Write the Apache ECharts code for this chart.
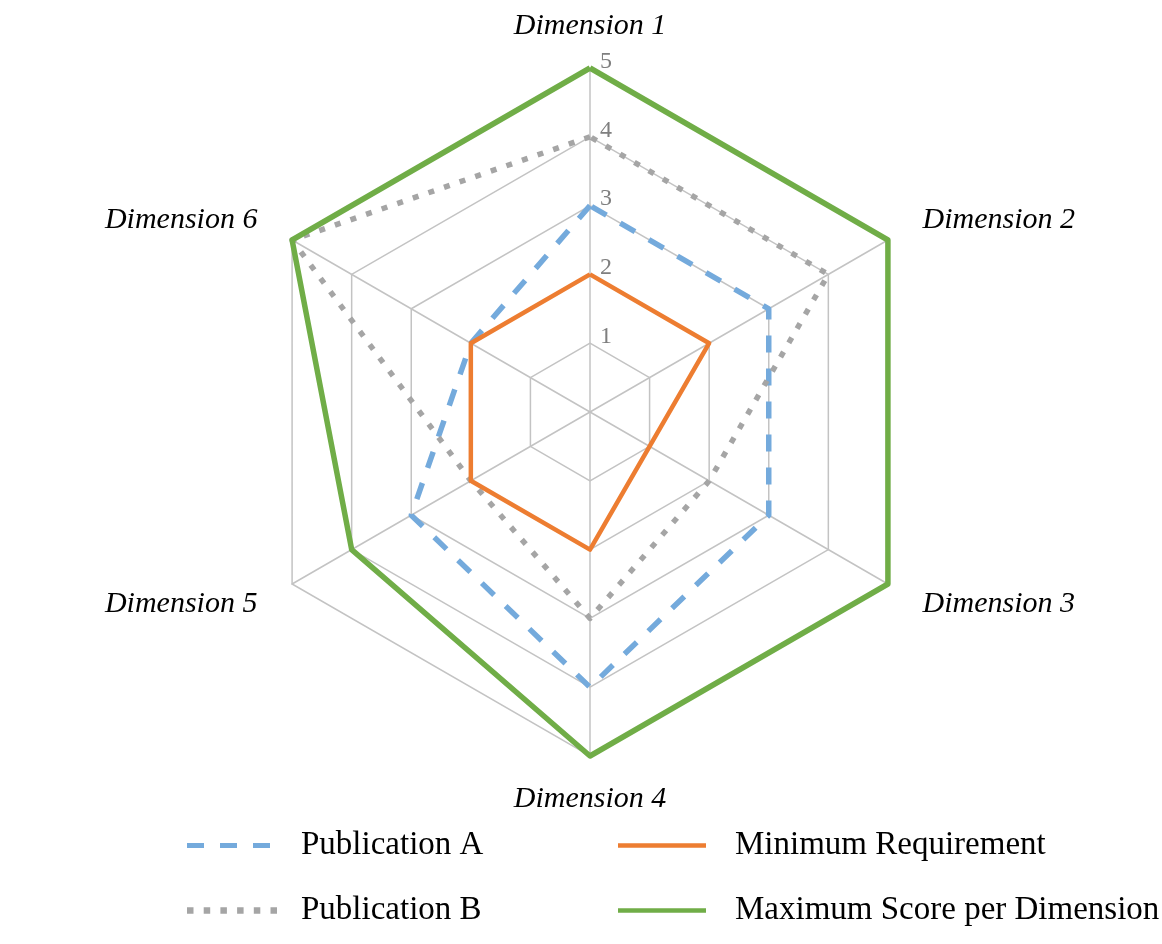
<!DOCTYPE html>
<html>
<head>
<meta charset="utf-8">
<script src="https://cdn.jsdelivr.net/npm/echarts@6/dist/echarts.min.js"></script>
<style>
  html, body { margin: 0; padding: 0; background: #fff; }
  #chart { width: 1162px; height: 944px; }
</style>
</head>
<body>
<div id="chart"></div>
<script>
// dimensions, clockwise from top
var dimensions = ['Dimension 1', 'Dimension 2', 'Dimension 3', 'Dimension 4', 'Dimension 5', 'Dimension 6'];
var publicationA = [3, 3, 3, 4, 3, 2];
var publicationB = [4, 4, 2, 3, 2, 5];
var minimumReq = [2, 2, 1, 2, 2, 2];
var maximumScore = [5, 5, 5, 5, 4, 5];
var maxValue = 5;

// echarts radar runs counter-clockwise, so walk the dimensions backwards
var order = [0, 5, 4, 3, 2, 1];
function reorder(arr) {
  return order.map(function (i) { return arr[i]; });
}

var serif = '"Liberation Serif", "Times New Roman", serif';

var chartDom = document.getElementById('chart');
var myChart = echarts.init(chartDom);

var indicators = reorder(dimensions).map(function (d, i) {
  return {
    name: d,
    min: 0,
    max: maxValue,
    nameGap: i === 0 ? 27 : (i === 3 ? 28 : 40),
    // only first axis shows the 1..5 labels
    axisLabel: { show: i === 0 }
  };
});

// legend icons drawn as line patterns
var dashIcon = 'path://M0,0h17v5h-17zM33,0h17v5h-17zM66,0h17v5h-17z';
var dotIcon = 'path://M0,0h6.5v6.5h-6.5zM16.7,0h6.5v6.5h-6.5zM33.4,0h6.5v6.5h-6.5zM50.1,0h6.5v6.5h-6.5zM66.8,0h6.5v6.5h-6.5zM83.5,0h6.5v6.5h-6.5z';
var solidIcon = 'path://M0,0h88v4.5h-88z';

function legendItem(name, icon, left, top, w, h, padLeft) {
  return {
    left: left,
    top: top,
    itemWidth: w,
    itemHeight: h,
    textStyle: { fontFamily: serif, fontSize: 33, color: '#000', padding: [0, 0, 6, padLeft] },
    data: [{ name: name, icon: icon }]
  };
}

var option = {
  animation: false,
  radar: {
    center: [590, 412],
    radius: 344,
    startAngle: 90,
    shape: 'polygon',
    splitNumber: 5,
    indicator: indicators,
    axisName: {
      color: '#000',
      fontFamily: serif,
      fontStyle: 'italic',
      fontSize: 30
    },
    axisLine: { lineStyle: { color: '#c3c3c3', width: 1.5 } },
    splitLine: { lineStyle: { color: '#c3c3c3', width: 1.5 } },
    splitArea: { show: false },
    axisTick: { show: false },
    axisLabel: {
      show: false,
      color: '#7f7f7f',
      fontFamily: serif,
      fontSize: 24,
      lineHeight: 13,
      margin: -10,
      align: 'left',
      verticalAlign: 'bottom',
      formatter: function (v) { return v === 0 ? '' : v; }
    }
  },
  legend: [
    legendItem('Publication A', dashIcon, 182, 824, 83, 5, 26),
    legendItem('Publication B', dotIcon, 182, 889, 90, 6.5, 19),
    legendItem('Minimum Requirement', solidIcon, 613, 824, 88, 4.5, 24),
    legendItem('Maximum Score per Dimension', solidIcon, 613, 889, 88, 4.5, 24)
  ],
  series: [
    {
      type: 'radar',
      symbol: 'none',
      data: [
        {
          name: 'Publication A',
          value: reorder(publicationA),
          lineStyle: { color: '#74aadc', width: 5.5, type: [17, 16] },
          itemStyle: { color: '#74aadc' }
        },
        {
          name: 'Publication B',
          value: reorder(publicationB),
          lineStyle: { color: '#a5a5a5', width: 5.5, type: [6, 10.5] },
          itemStyle: { color: '#a5a5a5' }
        },
        {
          name: 'Minimum Requirement',
          value: reorder(minimumReq),
          lineStyle: { color: '#ed7d31', width: 4.5 },
          itemStyle: { color: '#ed7d31' }
        },
        {
          name: 'Maximum Score per Dimension',
          value: reorder(maximumScore),
          lineStyle: { color: '#70ad47', width: 5.5 },
          itemStyle: { color: '#70ad47' }
        }
      ]
    }
  ]
};

myChart.setOption(option);
</script>
</body>
</html>
